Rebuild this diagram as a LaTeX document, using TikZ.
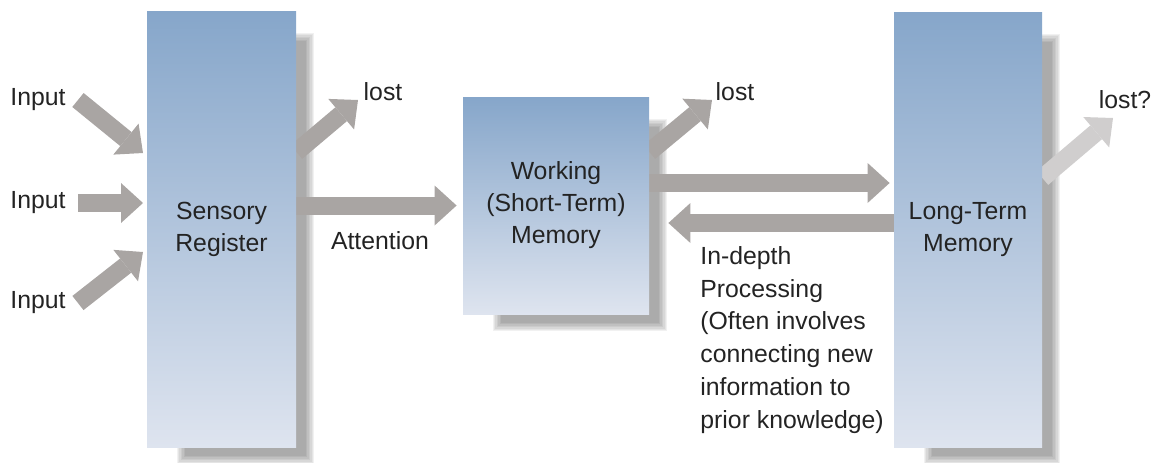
\documentclass[tikz,border=0pt]{standalone}
\usepackage{fontspec}
\setmainfont{Liberation Sans}
\usetikzlibrary{arrows.meta,positioning}

\definecolor{boxtop}{RGB}{134,166,202}
\definecolor{boxbottom}{RGB}{222,228,239}
\definecolor{arrowgray}{RGB}{169,165,163}
\definecolor{palegray}{RGB}{208,206,206}
\definecolor{inkgray}{RGB}{35,35,35}

\pgfdeclarelayer{shade}
\pgfdeclarelayer{under}
\pgfsetlayers{shade,under,main}

\begin{document}
\begin{tikzpicture}[x=0.5pt, y=-0.5pt,
    every node/.style={font=\fontsize{12.4}{16}\selectfont, text=inkgray},
    store/.style={shading=axis, top color=boxtop, bottom color=boxbottom,
        align=center, inner sep=0pt},
    bigarrow/.style={draw=arrowgray, line width=9pt,
        -{Triangle[width=20pt,length=11pt,line width=0pt]}},
    word/.style={inner sep=0pt}]
    \useasboundingbox (0,0) rectangle (1167,462);

    % Stores {sr, wm, ltm}
    \node [store, minimum width=74.5pt, minimum height=218pt]  (sr)  at (221.5,229)  {Sensory\\Register};
    \node [store, minimum width=93pt,   minimum height=108.5pt] (wm)  at (556,205.5)  {Working\\(Short-Term)\\Memory};
    \node [store, minimum width=74pt,   minimum height=217.5pt] (ltm) at (968,229.5)  {Long-Term\\Memory};

    % Labels
    \node [word, anchor=west] (in1) at (10,100) {Input};
    \node [word, anchor=west] (in2) at (10,203) {Input};
    \node [word, anchor=west] (in3) at (10,303) {Input};
    \node [word] (lost1) at (383,92)  {lost};
    \node [word] (lost2) at (735,92)  {lost};
    \node [word] (lost3) at (1125,100) {lost?};
    \node [word] (att)   at (380,241) {Attention};
    \node [word, anchor=north west, align=left, font=\fontsize{12.4}{16.4}\selectfont] (deep) at (700,246)
        {In-depth\\Processing\\(Often involves\\connecting new\\information to\\prior knowledge)};

    % Free ends
    \coordinate (t1) at (143,153);
    \coordinate (t2) at (143,203);
    \coordinate (t3) at (143,252);
    \coordinate (t4) at (358,100);
    \coordinate (t5) at (712,100);
    \coordinate (t6) at (1113,118);

    % Paths
    \begin{pgfonlayer}{under}
    \draw [bigarrow] ([xshift=6pt]in1.east) -- (t1);
    \draw [bigarrow] ([xshift=6pt]in2.east) -- (t2);
    \draw [bigarrow] ([xshift=6pt]in3.east) -- (t3);
    \draw [bigarrow] (sr.east |- 0,152)  -- (t4);
    \draw [bigarrow] (sr.east |- wm.west) -- ([xshift=-3pt]wm.west);
    \draw [bigarrow] (wm.east |- 0,152)  -- (t5);
    \draw [bigarrow] (wm.east |- 0,183) -- ([xshift=-2pt]ltm.west |- 0,183);
    \draw [bigarrow] (ltm.west |- 0,223) -- ([xshift=9.5pt]wm.east |- 0,223);
    \draw [bigarrow, draw=palegray] (ltm.east |- 0,178) -- (t6);
    \end{pgfonlayer}

    % Shadows
    \begin{pgfonlayer}{shade}
    \foreach \b in {sr,wm,ltm}
      \foreach \i in {0,...,6}
        \fill [black, opacity=.055]
          ([xshift=15pt+\i*0.7pt, yshift=-11pt-\i*0.7pt]\b.north west) rectangle
          ([xshift=9pt-\i*0.7pt, yshift=-8.5pt+\i*0.7pt]\b.south east);
    \end{pgfonlayer}
\end{tikzpicture}
\end{document}
